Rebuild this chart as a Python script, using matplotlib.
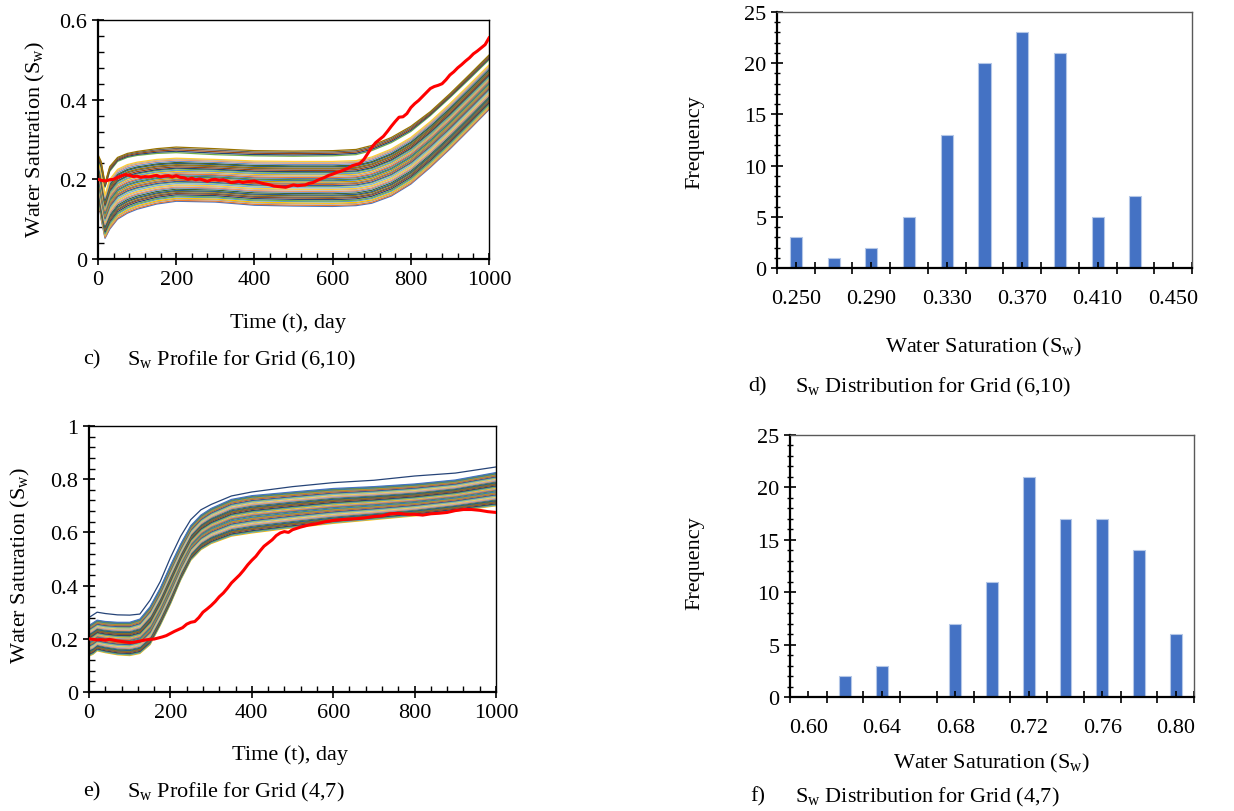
import matplotlib
matplotlib.use("Agg")
import matplotlib.pyplot as plt
import numpy as np
from matplotlib.ticker import MultipleLocator, FixedLocator, FuncFormatter

plt.rcParams['font.family'] = ['Liberation Serif', 'DejaVu Serif']
plt.rcParams['mathtext.fontset'] = 'custom'
plt.rcParams['mathtext.rm'] = 'Liberation Serif'
plt.rcParams['mathtext.it'] = 'Liberation Serif:italic'

FS = 16

# ---------------- data: panel c, grid (6,10) ----------------
T_C = [0, 8, 18, 30, 50, 75, 100, 150, 200, 300, 400, 500, 600, 660, 700, 750, 800, 850, 900, 950, 1000]
# lower / upper edge of the main ensemble band
LOW_C = [0.160, 0.100, 0.052, 0.075, 0.100, 0.115, 0.125, 0.138, 0.145, 0.143, 0.135, 0.133, 0.132, 0.134,
         0.140, 0.158, 0.188, 0.230, 0.276, 0.325, 0.375]
HIGH_C = [0.245, 0.220, 0.160, 0.200, 0.225, 0.237, 0.243, 0.250, 0.253, 0.250, 0.246, 0.245, 0.245, 0.247,
          0.256, 0.276, 0.305, 0.345, 0.390, 0.438, 0.487]
# small separated group at the top
TOPLOW_C = [0.250, 0.230, 0.180, 0.220, 0.245, 0.255, 0.260, 0.265, 0.267, 0.262, 0.259, 0.258, 0.259, 0.262,
            0.272, 0.292, 0.320, 0.360, 0.405, 0.452, 0.500]
TOPHIGH_C = [0.262, 0.245, 0.190, 0.232, 0.255, 0.265, 0.270, 0.277, 0.281, 0.277, 0.272, 0.271, 0.272, 0.275,
             0.285, 0.305, 0.333, 0.370, 0.415, 0.463, 0.512]
# position of each realization inside its band (0 = lower edge, 1 = upper edge)
MEMBERS_C = [0.00, 0.02, 0.05, 0.07, 0.10, 0.12, 0.15, 0.18, 0.20, 0.23, 0.25, 0.28, 0.31, 0.33, 0.36, 0.38,
             0.41, 0.44, 0.46, 0.49, 0.51, 0.54, 0.57, 0.59, 0.62, 0.64, 0.67, 0.70, 0.72, 0.75, 0.77, 0.80,
             0.83, 0.85, 0.88, 0.90, 0.93, 0.96, 0.98, 1.00]
TOP_MEMBERS_C = [0.00, 0.25, 0.50, 0.75, 1.00]

# observed (reference) curve, red
OBS_T_C = [0, 10, 20, 30, 40, 50, 60, 70, 80, 90, 100, 110, 120, 130, 140, 150, 160, 170, 180, 190, 200,
           210, 220, 230, 240, 250, 260, 270, 280, 290, 300, 310, 320, 330, 340, 350, 360, 370, 380, 390, 400,
           410, 420, 430, 440, 450, 460, 470, 480, 490, 500, 510, 520, 530, 540, 550, 560, 570, 580, 590, 600,
           610, 620, 630, 640, 650, 660, 670, 680, 690, 700, 710, 720, 730, 740, 750, 760, 770, 780, 790, 800,
           810, 820, 830, 840, 850, 860, 870, 880, 890, 900, 910, 920, 930, 940, 950, 960, 970, 980, 990, 1000]
OBS_C = [0.200, 0.197, 0.196, 0.199, 0.200, 0.205, 0.209, 0.212, 0.210, 0.207, 0.208, 0.205, 0.207, 0.206,
         0.208, 0.210, 0.206, 0.208, 0.209, 0.206, 0.209, 0.205, 0.204, 0.200, 0.203, 0.199, 0.201, 0.198,
         0.195, 0.199, 0.200, 0.198, 0.199, 0.196, 0.192, 0.193, 0.195, 0.192, 0.194, 0.195, 0.196, 0.193,
         0.190, 0.188, 0.186, 0.183, 0.182, 0.181, 0.180, 0.183, 0.186, 0.184, 0.185, 0.186, 0.190, 0.192,
         0.197, 0.201, 0.205, 0.210, 0.213, 0.217, 0.220, 0.224, 0.228, 0.234, 0.237, 0.240, 0.250, 0.265,
         0.280, 0.292, 0.300, 0.308, 0.320, 0.333, 0.345, 0.356, 0.357, 0.365, 0.380, 0.390, 0.398, 0.408,
         0.418, 0.428, 0.433, 0.436, 0.440, 0.450, 0.462, 0.470, 0.480, 0.488, 0.497, 0.505, 0.515, 0.522,
         0.530, 0.538, 0.555]

# ---------------- data: panel e, grid (4,7) ----------------
T_E = [0, 10, 20, 40, 70, 100, 125, 150, 175, 200, 225, 250, 275, 300, 350, 400, 500, 600, 700, 800, 900, 1000]
LOW_E = [0.135, 0.142, 0.155, 0.148, 0.140, 0.137, 0.145, 0.178, 0.250, 0.330, 0.420, 0.495, 0.535, 0.558,
         0.586, 0.598, 0.617, 0.634, 0.648, 0.662, 0.680, 0.700]
HIGH_E = [0.250, 0.260, 0.270, 0.265, 0.262, 0.262, 0.274, 0.320, 0.390, 0.475, 0.555, 0.625, 0.665, 0.690,
          0.724, 0.738, 0.752, 0.765, 0.772, 0.782, 0.797, 0.825]
OUTLIER_E = [0.280, 0.290, 0.300, 0.295, 0.290, 0.289, 0.293, 0.345, 0.415, 0.505, 0.585, 0.648, 0.685, 0.705,
             0.737, 0.752, 0.772, 0.787, 0.796, 0.812, 0.823, 0.846]
MEMBERS_E = [0.00, 0.02, 0.04, 0.06, 0.09, 0.11, 0.13, 0.15, 0.18, 0.20, 0.22, 0.24, 0.27, 0.29, 0.31, 0.33,
             0.36, 0.38, 0.40, 0.42, 0.45, 0.47, 0.49, 0.51, 0.54, 0.56, 0.58, 0.60, 0.63, 0.65, 0.67, 0.69,
             0.72, 0.74, 0.76, 0.78, 0.81, 0.83, 0.85, 0.87, 0.90, 0.92, 0.94, 0.96, 0.98, 1.00]

OBS_T_E = [0, 10, 20, 30, 40, 50, 60, 70, 80, 90, 100, 110, 120, 130, 140, 150, 160, 170, 180, 190, 200,
           210, 220, 230, 240, 250, 260, 270, 280, 290, 300, 310, 320, 330, 340, 350, 360, 370, 380, 390, 400,
           410, 420, 430, 440, 450, 460, 470, 480, 490, 500, 510, 520, 530, 540, 550, 560, 570, 580, 590, 600,
           620, 640, 660, 680, 700, 720, 740, 760, 780, 800, 820, 840, 860, 880, 900, 920, 940, 960, 980, 1000]
OBS_E = [0.200, 0.198, 0.196, 0.197, 0.195, 0.198, 0.195, 0.192, 0.190, 0.188, 0.186, 0.187, 0.190, 0.193,
         0.196, 0.198, 0.199, 0.203, 0.207, 0.212, 0.220, 0.228, 0.235, 0.242, 0.255, 0.262, 0.265, 0.280,
         0.300, 0.312, 0.325, 0.340, 0.358, 0.372, 0.390, 0.410, 0.425, 0.440, 0.458, 0.478, 0.495, 0.510,
         0.530, 0.548, 0.560, 0.572, 0.588, 0.598, 0.603, 0.600, 0.610, 0.615, 0.620, 0.624, 0.628, 0.630,
         0.633, 0.636, 0.640, 0.642, 0.645, 0.648, 0.650, 0.652, 0.655, 0.660, 0.662, 0.670, 0.672, 0.668,
         0.668, 0.665, 0.670, 0.672, 0.675, 0.682, 0.686, 0.686, 0.683, 0.678, 0.675]

# ---------------- data: histograms ----------------
BINS_D = ['0.250', '0.270', '0.290', '0.310', '0.330', '0.350', '0.370', '0.390', '0.410', '0.430', '0.450']
FREQ_D = [3, 1, 2, 5, 13, 20, 23, 21, 5, 7, 0]
BINS_F = ['0.60', '0.62', '0.64', '0.66', '0.68', '0.70', '0.72', '0.74', '0.76', '0.78', '0.80']
FREQ_F = [0, 2, 3, 0, 7, 11, 21, 17, 17, 14, 6]

EXCEL = ['#4472C4', '#ED7D31', '#A5A5A5', '#FFC000', '#5B9BD5', '#70AD47', '#264478', '#9E480E',
         '#636363', '#997300', '#255E91', '#43682B', '#698ED0', '#F1975A', '#B7B7B7', '#FFCD33',
         '#7CAFDD', '#8CC168', '#335AA1', '#D26012', '#848484', '#CC9A00', '#327DC2', '#5A8A39']

W, H = 1234, 812
fig = plt.figure(figsize=(W / 100, H / 100), dpi=100)


def px_axes(x0, y0, x1, y1):
    return fig.add_axes([x0 / W, 1 - y1 / H, (x1 - x0) / W, (y1 - y0) / H])


def ftext(x, y, s, **kw):
    fig.text(x / W, 1 - y / H, s, fontsize=FS, va='center', **kw)


def style_line_axes(ax, ymax, ymajor):
    ax.set_xlim(0, 1000)
    ax.set_ylim(0, ymax)
    ax.xaxis.set_major_locator(MultipleLocator(200))
    ax.xaxis.set_minor_locator(MultipleLocator(40))
    ax.yaxis.set_major_locator(MultipleLocator(ymajor))
    ax.yaxis.set_minor_locator(MultipleLocator(ymajor / 5))
    ax.yaxis.set_major_formatter(FuncFormatter(lambda v, p: '0' if abs(v) < 1e-9 else f'{v:g}'))
    ax.tick_params(which='major', direction='inout', length=8, width=1.2, labelsize=FS, pad=4)
    ax.tick_params(which='minor', direction='in', length=4, width=1.0)
    for s in ax.spines.values():
        s.set_linewidth(1.0)
    ax.spines['left'].set_linewidth(1.6)
    ax.spines['bottom'].set_linewidth(1.6)


def draw_band(ax, t, low, high, members, offset):
    low = np.asarray(low)
    high = np.asarray(high)
    for i, f in enumerate(members):
        ax.plot(t, low + f * (high - low), color=EXCEL[(i + offset) % len(EXCEL)], lw=0.9)


# panel c
axc = px_axes(98, 21, 489, 260)
draw_band(axc, T_C, LOW_C, HIGH_C, MEMBERS_C, 0)
draw_band(axc, T_C, TOPLOW_C, TOPHIGH_C, TOP_MEMBERS_C, 5)
axc.plot(OBS_T_C, OBS_C, color='#FF0000', lw=2.2, zorder=5)
style_line_axes(axc, 0.6, 0.2)
ftext(35, 139, 'Water Saturation (S$_\\mathrm{w}$)', rotation=90, ha='center')
ftext(288, 323, 'Time (t), day', ha='center')
ftext(83, 360, 'c)', ha='left')
ftext(127, 360, 'S$_\\mathrm{w}$ Profile for Grid (6,10)', ha='left')

# panel e
axe = px_axes(89, 427, 496, 693)
draw_band(axe, T_E, LOW_E, HIGH_E, MEMBERS_E, 3)
axe.plot(T_E, OUTLIER_E, color='#264478', lw=0.9)
axe.plot(OBS_T_E, OBS_E, color='#FF0000', lw=2.2, zorder=5)
style_line_axes(axe, 1.0, 0.2)
ftext(20, 565, 'Water Saturation (S$_\\mathrm{w}$)', rotation=90, ha='center')
ftext(290, 755, 'Time (t), day', ha='center')
ftext(83, 792, 'e)', ha='left')
ftext(127, 792, 'S$_\\mathrm{w}$ Profile for Grid (4,7)', ha='left')


def draw_hist(ax, bins, freq):
    x = np.arange(len(bins))
    ax.bar(x, freq, width=0.32, color='#4472C4', edgecolor='#B4C7E7', linewidth=0.8, zorder=1)
    ax.set_xlim(-0.5, len(bins) - 0.5)
    ax.set_ylim(0, 25)
    ax.yaxis.set_major_locator(MultipleLocator(5))
    ax.yaxis.set_minor_locator(MultipleLocator(1))
    ax.xaxis.set_major_locator(FixedLocator(x[::2]))
    ax.set_xticklabels(bins[::2])
    ax.xaxis.set_minor_locator(FixedLocator(np.arange(len(bins) + 1) - 0.5))
    ax.tick_params(which='major', axis='y', direction='inout', length=8, width=1.2, labelsize=FS)
    ax.tick_params(which='minor', axis='y', direction='inout', length=5, width=1.0)
    # category boundaries carry crossing ticks, centres carry short inner ticks
    ax.tick_params(which='major', axis='x', direction='in', length=4, width=1.2, labelsize=FS, pad=15)
    ax.tick_params(which='minor', axis='x', direction='inout', length=9, width=1.2)
    for side in ('top', 'right'):
        ax.spines[side].set_color('#595959')
        ax.spines[side].set_linewidth(1.0)
    ax.spines['left'].set_linewidth(1.6)
    ax.spines['bottom'].set_linewidth(1.6)


# panel d
axd = px_axes(777, 13, 1192, 269)
draw_hist(axd, BINS_D, FREQ_D)
ftext(695, 142, 'Frequency', rotation=90, ha='center')
ftext(984, 347, 'Water Saturation (S$_\\mathrm{w}$)', ha='center')
ftext(748, 387, 'd)', ha='left')
ftext(795, 387, 'S$_\\mathrm{w}$ Distribution for Grid (6,10)', ha='left')

# panel f
axf = px_axes(790, 436, 1194, 698)
draw_hist(axf, BINS_F, FREQ_F)
ftext(695, 563, 'Frequency', rotation=90, ha='center')
ftext(992, 763, 'Water Saturation (S$_\\mathrm{w}$)', ha='center')
ftext(750, 797, 'f)', ha='left')
ftext(795, 797, 'S$_\\mathrm{w}$ Distribution for Grid (4,7)', ha='left')

fig.savefig('out.png', dpi=100)
